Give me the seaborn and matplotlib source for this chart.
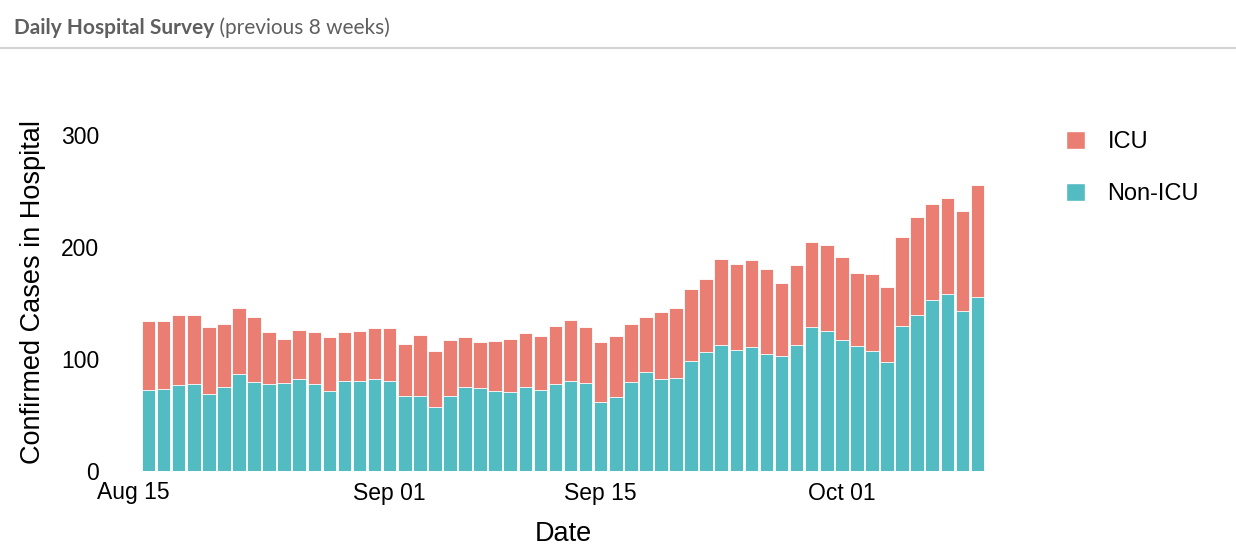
import numpy as np
import pandas as pd
import matplotlib
matplotlib.use('Agg')
import matplotlib.pyplot as plt
from matplotlib.patches import Patch
from matplotlib.lines import Line2D
import seaborn as sns

# daily survey values, Aug 16 .. Oct 10
start_date = '2020-08-16'
non_icu = [72, 73, 76, 77, 68, 75, 86, 79, 77, 78, 82, 77, 71, 80,
           80, 82, 80, 67, 67, 57, 67, 75, 74, 71, 70, 75, 72, 77,
           80, 78, 61, 66, 79, 88, 82, 83, 98, 106, 112, 108, 110, 104,
           102, 112, 128, 125, 117, 111, 107, 97, 129, 139, 152, 158, 143, 155]
icu = [62, 61, 63, 62, 60, 56, 59, 58, 47, 40, 44, 47, 48, 44,
       45, 45, 47, 46, 54, 50, 50, 44, 41, 45, 48, 48, 48, 52,
       55, 50, 54, 54, 52, 49, 60, 62, 64, 65, 77, 77, 78, 76,
       66, 72, 76, 77, 74, 66, 69, 67, 80, 88, 86, 86, 89, 100]
tick_dates = ['2020-08-15', '2020-09-01', '2020-09-15', '2020-10-01']
tick_labels = ['Aug 15', 'Sep 01', 'Sep 15', 'Oct 01']
yticks = [0, 100, 200, 300]

ICU_COLOR = '#EA7E72'
NON_ICU_COLOR = '#53BBC2'

dates = pd.date_range(start_date, periods=len(non_icu))
df = pd.DataFrame({'date': dates.strftime('%Y-%m-%d'),
                   'non_icu': non_icu, 'icu': icu})
df['total'] = df['non_icu'] + df['icu']

sns.set_style('white')
plt.rcParams['font.family'] = ['Liberation Sans', 'DejaVu Sans']
plt.rcParams['text.color'] = 'black'
plt.rcParams['axes.labelcolor'] = 'black'
plt.rcParams['xtick.color'] = 'black'
plt.rcParams['ytick.color'] = 'black'

fig = plt.figure(figsize=(12.36, 5.58), dpi=100)
ax = fig.add_axes([141 / 1236, 1 - 470.5 / 558, 844 / 1236, (470.5 - 112.6) / 558])

sns.barplot(data=df, x='date', y='total', color=ICU_COLOR, saturation=1,
            width=0.9, edgecolor='white', linewidth=0.6, ax=ax)
sns.barplot(data=df, x='date', y='non_icu', color=NON_ICU_COLOR, saturation=1,
            width=0.9, edgecolor='white', linewidth=0.6, ax=ax)

ax.set_ylim(0, 320)
ax.set_xlim(-0.5, len(df) - 0.5)
ax.set_yticks(yticks)
ax.set_yticklabels([str(v) for v in yticks], fontsize=16.5)

# tick positions from the dates (Aug 15 falls just left of the axis)
tick_pos = [(pd.Timestamp(d) - dates[0]).days for d in tick_dates]
inside = [(p, l) for p, l in zip(tick_pos, tick_labels) if p >= 0]
ax.set_xticks([p for p, _ in inside])
ax.set_xticklabels([l for _, l in inside], fontsize=16.5)
for p, l in zip(tick_pos, tick_labels):
    if p < 0:
        ax.text(p, -0.03, l, transform=ax.get_xaxis_transform(),
                ha='center', va='top', fontsize=16.5, clip_on=False)

ax.tick_params(axis='y', length=0, pad=30)
ax.tick_params(axis='x', length=0, pad=8)
ax.set_xlabel('Date', fontsize=19.5, labelpad=12)
ax.set_ylabel('Confirmed Cases in Hospital', fontsize=19.5, labelpad=11)
sns.despine(ax=ax, left=True, bottom=True)

handles = [Patch(facecolor=ICU_COLOR, label='ICU'),
           Patch(facecolor=NON_ICU_COLOR, label='Non-ICU')]
fig.legend(handles=handles, loc='upper left', bbox_to_anchor=(1045 / 1236, 1 - 110 / 558),
           frameon=False, fontsize=17, handlelength=0.8, handleheight=0.8,
           labelspacing=1.25, handletextpad=0.95)

# panel header
t = fig.text(14 / 1236, 1 - 28 / 558, 'Daily Hospital Survey', fontsize=15,
             fontweight='bold', color='#5f5f5f', family=['Lato', 'DejaVu Sans'], va='center')
ax.annotate(' (previous 8 weeks)', xy=(1, 0.5), xycoords=t, va='center', ha='left',
            fontsize=15, color='#5f5f5f', family=['Lato', 'DejaVu Sans'])
fig.add_artist(Line2D([0, 1], [1 - 48 / 558] * 2, transform=fig.transFigure,
                      color='#d4d4d4', lw=1.5))

fig.savefig('out.png', dpi=100)
